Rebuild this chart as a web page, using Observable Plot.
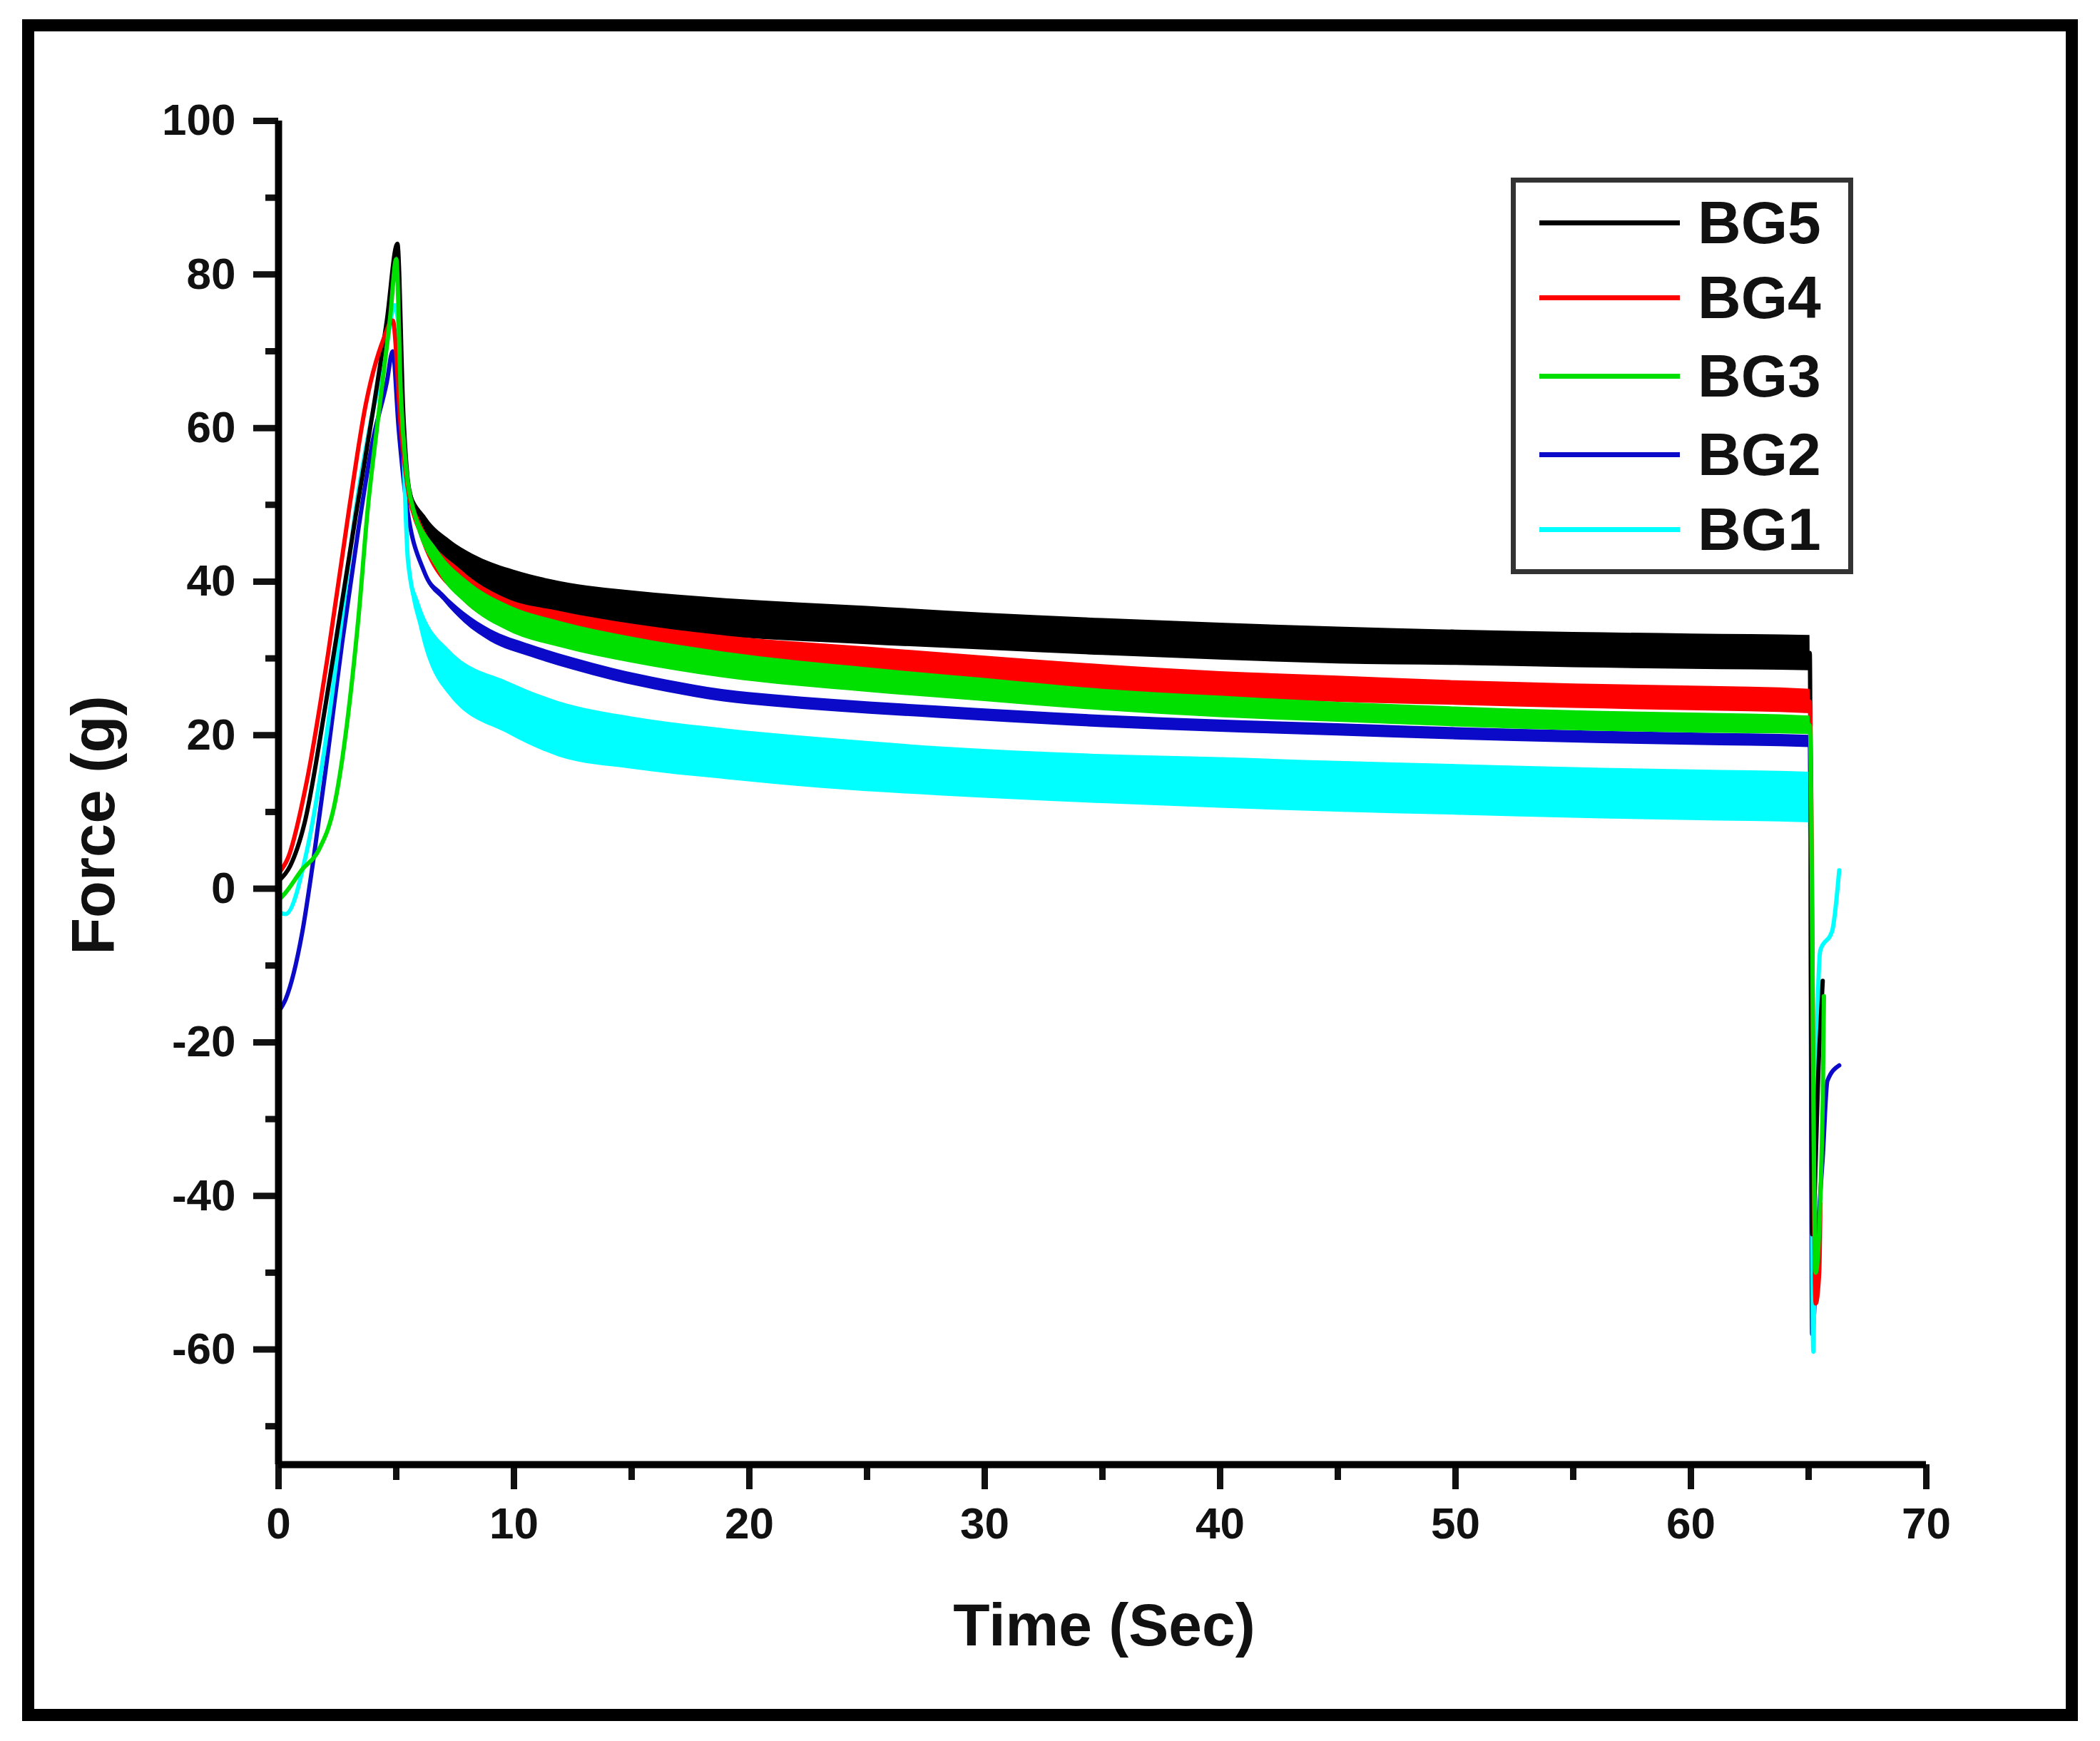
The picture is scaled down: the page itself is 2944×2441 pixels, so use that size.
<!DOCTYPE html>
<html><head><meta charset="utf-8">
<script src="https://cdn.jsdelivr.net/npm/d3@7"></script>
<script src="https://cdn.jsdelivr.net/npm/@observablehq/plot@0.6"></script>
<style>
html,body{margin:0;padding:0;background:#fff;}
#wrap{position:relative;width:2944px;height:2441px;overflow:hidden;font-family:"Liberation Sans",Arial,sans-serif;color:#111;}
#frame{position:absolute;left:31px;top:27px;width:2882px;height:2386px;border:17px solid #000;box-sizing:border-box;pointer-events:none;}
#chart{position:absolute;left:0;top:0;}
#legend{position:absolute;left:2118px;top:249px;width:480px;height:556px;border:7px solid #333;box-sizing:border-box;background:#fff;}
.sw{position:absolute;left:33px;width:197px;height:7px;margin-top:-3px;}
.lab{position:absolute;left:255px;font-size:84px;font-weight:bold;line-height:1;transform:translateY(-50%);}
#ytitle{position:absolute;left:130px;top:1157px;font-size:85px;font-weight:bold;line-height:1;white-space:nowrap;transform:translate(-50%,-50%) rotate(-90deg);}
#xtitle{position:absolute;left:1548px;top:2236px;font-size:84px;font-weight:bold;line-height:1;white-space:nowrap;transform:translateX(-50%);}
</style></head>
<body>
<div id="wrap"><div id="chart"></div><div id="legend"></div>
<div id="ytitle">Force (g)</div><div id="xtitle">Time (Sec)</div><div id="frame"></div></div>
<script>
// Series names and colours (legend order)
const series = ["BG5", "BG4", "BG3", "BG2", "BG1"];
const colors = ["#000000", "#ff0000", "#00e000", "#0a0ac8", "#00ffff"];

// Tick values
const xMajor = [0, 10, 20, 30, 40, 50, 60, 70];
const xMinor = [5, 15, 25, 35, 45, 55, 65];
const yMajor = [-60, -40, -20, 0, 20, 40, 60, 80, 100];
const yMinor = [-70, -50, -30, -10, 10, 30, 50, 70, 90];

// [time (s), force (g), noise half-width (g)]
const bg5 = [[0,1,0],[0.5,3,0],[1.1,8.5,0],[2.0,24,0],[2.6,35.5,0],[3.3,49,0],[4.0,62,0],[4.6,74,0],[5.05,84,0],
  [5.3,62,0],[5.55,52,0.6],[6.3,46.5,1.8],[7.3,42.8,2.6],[8.5,40.6,2.6],[10,38.9,2.6],[12,37.4,2.6],[15,36.3,2.5],
  [19,35.3,2.5],[25,34.3,2.5],[30,33.5,2.4],[35,32.8,2.4],[40,32.2,2.4],[45,31.7,2.4],[50,31.4,2.3],[55,31.1,2.3],
  [60,30.9,2.3],[65.05,30.7,2.3],[65.15,-45,0],[65.45,-21,0],[65.6,-12,0]];
const bg4 = [[0,2,0],[0.4,4,0],[1.2,14,0],[2.1,30.5,0],[3.0,49.5,0],[3.7,63,0],[4.45,71.5,0],[4.85,74,0],
  [5.2,60,0],[5.5,52,0.5],[6.0,47,1.1],[7.8,39.5,1.9],[9.6,36,1.9],[12,34.2,1.9],[15,32.6,1.9],[18.8,31.1,1.9],
  [25,29.6,1.9],[30,28.5,1.8],[35,27.4,1.8],[40,26.6,1.7],[45,26,1.7],[50,25.5,1.6],[55,25.1,1.6],[60,24.8,1.6],
  [65.05,24.4,1.6],[65.3,-54,0],[65.45,-50,0],[65.5,-41,0]];
const bg3 = [[0,-1.5,0],[0.3,-0.5,0],[1.0,2.5,0],[1.7,5,0],[2.4,11.3,0],[2.9,21.3,0],[3.4,35.5,0],[3.8,49.8,0],
  [4.2,60.5,0],[4.75,74.7,0],[5.0,82,0],[5.2,64,0],[5.4,55.4,0],[5.6,51,0.5],[6.8,42.6,1.4],[8,38.6,1.6],
  [9.8,35.2,1.7],[12,33.1,1.7],[15,31.1,1.7],[18.8,29.2,1.7],[25,27.2,1.6],[30,25.9,1.5],[35,24.6,1.4],
  [40,23.7,1.4],[45,23,1.3],[50,22.4,1.3],[55,21.9,1.3],[60,21.6,1.3],[65.05,21.3,1.2],[65.3,-50,0],
  [65.6,-28,0],[65.65,-14,0]];
const bg2 = [[0,-16,0],[0.3,-14.4,0],[1.0,-5.8,0],[1.5,4.2,0],[2.1,17.8,0],[2.7,32,0],[3.4,47,0],[4.0,58.3,0],
  [4.6,66,0],[4.85,70,0],[5.1,60,0],[5.4,51,0],[6.2,41.2,0.4],[7.0,38,0.5],[7.9,35.3,0.7],[9,33,0.8],[10.7,31,0.8],
  [12.5,29.3,0.8],[14.2,27.9,0.8],[16.5,26.4,0.8],[18.8,25.2,0.8],[21,24.5,0.8],[23.5,23.9,0.8],[28,23,0.8],
  [35,21.8,0.8],[40,21.2,0.8],[45,20.7,0.8],[50,20.2,0.8],[55,19.8,0.8],[60,19.5,0.8],[65.05,19.2,0.8],
  [65.15,-58,0],[65.4,-44,0],[65.6,-35,0],[65.8,-25,0],[66.3,-23,0]];
const bg1 = [[0,-3,0],[0.3,-3.3,0],[1.2,4.9,0],[2.0,19.2,0],[2.7,35.5,0],[3.3,49.8,0],[3.9,60.5,0],[4.5,69,0],
  [4.95,76,0],[5.15,71,0],[5.5,42.7,0.6],[6.0,35.5,1.7],[7.3,28,3.0],[9.8,23.5,3.4],[11.9,20.8,3.6],[15,19,3.4],
  [18.8,17.6,3.3],[23,16.4,3.3],[28.1,15.3,3.2],[35,14.3,3.2],[40,13.8,3.3],[45,13.3,3.3],[50,12.9,3.3],[55,12.5,3.3],
  [60,12.2,3.3],[65.05,11.9,3.3],[65.2,-60.3,0],[65.3,-30,0],[65.5,-8,0],[66.0,-5.5,0],[66.3,2.4,0]];

const raw = {BG5: bg5, BG4: bg4, BG3: bg3, BG2: bg2, BG1: bg1};
const drawOrder = ["BG2", "BG1", "BG5", "BG4", "BG3"];
const colorOf = Object.fromEntries(series.map((s, i) => [s, colors[i]]));

const font = "'Liberation Sans', Arial, sans-serif";
const seriesMarks = drawOrder.flatMap(s => {
  const rows = raw[s].map(([t, f, h]) => ({t, f, lo: f - h, hi: f + h}));
  return [
    Plot.areaY(rows, {x: "t", y1: "lo", y2: "hi", fill: colorOf[s], curve: "monotone-x"}),
    Plot.line(rows, {x: "t", y: "f", stroke: colorOf[s], strokeWidth: 6, curve: "monotone-x"})
  ];
});

const chart = Plot.plot({
  width: 2944, height: 2441,
  marginLeft: 390, marginRight: 244, marginTop: 169, marginBottom: 388,
  x: {domain: [0, 70]},
  y: {domain: [-75, 100]},
  style: {fontFamily: font, background: "transparent", color: "#111"},
  marks: [
    ...seriesMarks,
    Plot.axisY(yMajor, {tickSize: 35, tickPadding: 25, strokeWidth: 9, fontSize: 62, fontWeight: "bold",
      fontFamily: font, tickFormat: d => String(d), label: null}),
    Plot.axisY(yMinor, {tickSize: 18, strokeWidth: 9, tickFormat: () => "", label: null}),
    Plot.axisX(xMajor, {tickSize: 35, tickPadding: 24, strokeWidth: 9, fontSize: 62, fontWeight: "bold",
      fontFamily: font, tickFormat: d => String(d), label: null}),
    Plot.axisX(xMinor, {tickSize: 22, strokeWidth: 9, tickFormat: () => "", label: null}),
    Plot.ruleX([0], {y1: -75, y2: 100, strokeWidth: 10, stroke: "#000"}),
    Plot.ruleY([-75], {x1: 0, x2: 70, strokeWidth: 10, stroke: "#000"})
  ]
});
document.getElementById("chart").appendChild(chart);

// Legend
const rowY = [56, 161, 271, 381, 486];
const legend = document.getElementById("legend");
series.forEach((s, i) => {
  const sw = document.createElement("div");
  sw.className = "sw"; sw.style.top = rowY[i] + "px"; sw.style.background = colors[i];
  legend.appendChild(sw);
  const lab = document.createElement("div");
  lab.className = "lab"; lab.style.top = rowY[i] + "px"; lab.textContent = s;
  legend.appendChild(lab);
});
</script>
</body></html>
